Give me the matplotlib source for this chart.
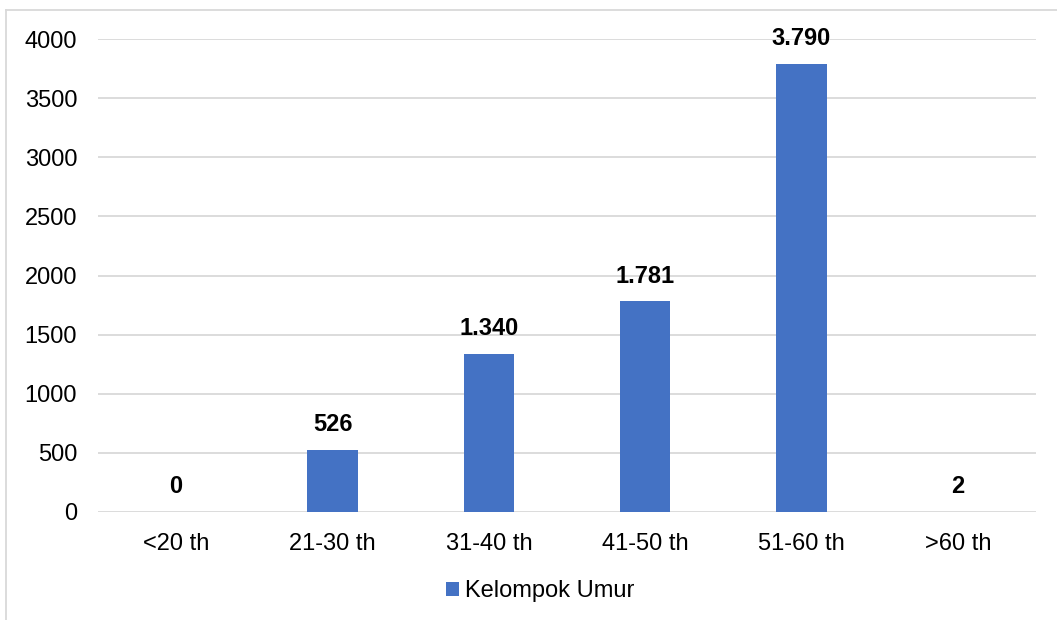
import matplotlib.pyplot as plt
from matplotlib.lines import Line2D
from matplotlib.patches import Patch

plt.rcParams["font.family"] = ["Liberation Sans", "DejaVu Sans"]

categories = ["<20 th", "21-30 th", "31-40 th", "41-50 th", "51-60 th", ">60 th"]
values = [0, 526, 1340, 1781, 3790, 2]
yticks = [0, 500, 1000, 1500, 2000, 2500, 3000, 3500, 4000]
series_name = "Kelompok Umur"

bar_color = "#4472C4"
grid_color = "#D9D9D9"

fig = plt.figure(figsize=(10.57, 6.2), dpi=100)
ax = fig.add_axes([98 / 1057, 1 - 512 / 620, (1036 - 98) / 1057, (512 - 39) / 620])

x = range(len(categories))
bars = ax.bar(x, values, width=0.32, color=bar_color, zorder=3)

for rect, v in zip(bars, values):
    ax.annotate(f"{v:,}".replace(",", "."),
                (rect.get_x() + rect.get_width() / 2, rect.get_height()),
                xytext=(0, 10), textcoords="offset points",
                ha="center", va="bottom", fontsize=17, fontweight="bold")

ax.set_xlim(-0.5, len(categories) - 0.5)
ax.set_ylim(0, 4000)
ax.set_yticks(yticks)
ax.set_xticks(list(x))
ax.set_xticklabels(categories)
ax.tick_params(axis="both", length=0, labelsize=17, colors="black")
ax.tick_params(axis="y", pad=15)
ax.tick_params(axis="x", pad=15)
ax.grid(axis="y", color=grid_color, linewidth=1.3, zorder=0)
for s in ax.spines.values():
    s.set_visible(False)

fig.legend(handles=[Patch(facecolor=bar_color, label=series_name)],
           loc="center", bbox_to_anchor=(540 / 1057, 1 - 591 / 620),
           frameon=False, fontsize=17, handlelength=0.55, handleheight=0.55,
           handletextpad=0.25)

# outer chart border (left and top edges visible)
fig.add_artist(Line2D([6 / 1057, 6 / 1057], [0, 1 - 10 / 620],
                      transform=fig.transFigure, color=grid_color, linewidth=1.3))
fig.add_artist(Line2D([6 / 1057, 1], [1 - 10 / 620, 1 - 10 / 620],
                      transform=fig.transFigure, color=grid_color, linewidth=1.3))

fig.savefig("out.png", dpi=100, facecolor="white")
